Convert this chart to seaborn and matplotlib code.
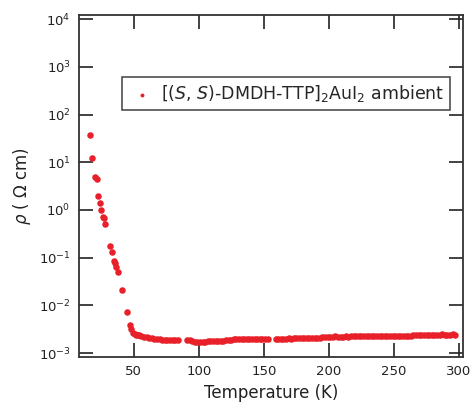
"""Resistivity vs temperature for [(S,S)-DMDH-TTP]2AuI2 at ambient pressure."""
import matplotlib
matplotlib.use('Agg')
import matplotlib.pyplot as plt
import numpy as np
import pandas as pd
import seaborn as sns

LABEL = r'[($\mathit{S}$, $\mathit{S}$)-DMDH-TTP]$_2$AuI$_2$ ambient'
RED = '#e8202a'

# low-temperature upturn (rho in Ohm cm)
temp_low = [16.3, 18.3, 20.6, 21.6, 22.9, 24.0, 25.2, 26.5, 27.2, 27.8,
            32.1, 33.4, 35.2, 35.7, 36.7, 38.0, 41.0, 44.6, 47.2, 48.0, 49.5]
rho_low = [37, 12.5, 5.0, 4.5, 1.95, 1.38, 0.98, 0.72, 0.68, 0.50,
           0.174, 0.129, 0.087, 0.078, 0.063, 0.051, 0.0214, 0.0071, 0.0039, 0.0032, 0.0027]

# metallic plateau (rho in mOhm cm)
temp_high = [51, 52, 53, 54, 56, 58, 60, 62, 64, 66, 68, 70, 72, 74, 76, 78, 80, 82, 84,
             91, 93, 95, 97, 99, 101, 103, 105, 107, 109, 111, 113, 115, 117, 119, 121,
             123, 125, 127, 129, 131, 133, 135, 137, 139, 141, 143, 145, 147, 149, 151, 153,
             159, 161, 163, 165, 167, 169, 171, 173, 175, 177, 179, 181, 183, 185, 187, 189,
             191, 193, 195, 197, 199, 201, 203, 205, 207, 209, 211, 213, 215, 217, 219, 221,
             223, 225, 227, 229, 231, 233, 235, 237, 239, 241, 243, 245, 247, 249, 251, 253,
             255, 257, 259, 261, 263, 265, 267, 269, 271, 273, 275, 277, 279, 281, 283, 285,
             287, 289, 291, 293, 295, 297]
rho_high_m = [2.52, 2.44, 2.38, 2.34, 2.28, 2.22, 2.17, 2.12, 2.06, 1.98, 1.95, 1.94, 1.92, 1.91,
              1.90, 1.89, 1.88, 1.87, 1.86,
              1.85, 1.84, 1.83, 1.74, 1.68, 1.67, 1.70, 1.72, 1.75, 1.76, 1.77, 1.78, 1.79, 1.80,
              1.82, 1.84, 1.86, 1.90, 1.93, 1.95, 1.96, 1.97, 1.98, 1.97, 1.98, 1.99, 1.98, 1.97,
              1.99, 2.00, 1.97, 1.98,
              1.99, 2.00, 2.01, 2.00, 2.02, 2.03, 2.02, 2.04, 2.05, 2.04, 2.06, 2.07, 2.06, 2.08,
              2.10, 2.09, 2.11, 2.12, 2.15, 2.18, 2.20, 2.19, 2.21, 2.25, 2.22, 2.18, 2.22, 2.23,
              2.22, 2.24, 2.23, 2.25, 2.24, 2.24, 2.25, 2.24, 2.26, 2.25, 2.24, 2.26, 2.25, 2.26,
              2.24, 2.25, 2.27, 2.26, 2.25, 2.27, 2.26, 2.28, 2.27, 2.29, 2.30, 2.35, 2.40, 2.42,
              2.43, 2.44, 2.43, 2.45, 2.44, 2.45, 2.44, 2.45, 2.46, 2.45, 2.44, 2.45, 2.46, 2.45]

df = pd.DataFrame({
    'T': temp_low + temp_high,
    'rho': rho_low + [r * 1e-3 for r in rho_high_m],
})

sns.set_style('ticks')
plt.rcParams['font.family'] = ['DejaVu Sans']

fig = plt.figure(figsize=(4.70, 4.09), dpi=100)
ax = fig.add_axes([0.168, 0.127, 0.817, 0.836])

sns.scatterplot(data=df, x='T', y='rho', ax=ax, color=RED, s=22,
                linewidth=0, label=LABEL)

ax.set_yscale('log')
ax.set_xlim(8, 303)
ax.set_ylim(8.26e-4, 1.21e4)
ax.set_xticks([50, 100, 150, 200, 250, 300])
ax.set_yticks([10.0 ** k for k in range(-3, 5)])
ax.minorticks_off()
ax.tick_params(which='major', direction='in', length=10, width=1.2,
               top=True, right=True, labelsize=9.5, colors='#222222', pad=6)

for sp in ax.spines.values():
    sp.set_linewidth(1.3)
    sp.set_color('#333333')

ax.set_xlabel('Temperature (K)', fontsize=12, color='#222222')
ax.set_ylabel(r'$\rho$ ( $\mathit{\Omega}$ cm)', fontsize=12, color='#222222', labelpad=4)

# legend box roughly spans x 123-450 px, y 77-111 px in the reference
leg = ax.legend(loc='upper right', bbox_to_anchor=(0.966, 0.819), borderaxespad=0,
                fontsize=12.5, frameon=True, fancybox=False, handletextpad=0.3,
                handlelength=1.6, borderpad=0.35, markerscale=0.6)
leg.get_frame().set_edgecolor('#222222')
leg.get_frame().set_linewidth(1.2)

fig.savefig('out.png', dpi=100)
